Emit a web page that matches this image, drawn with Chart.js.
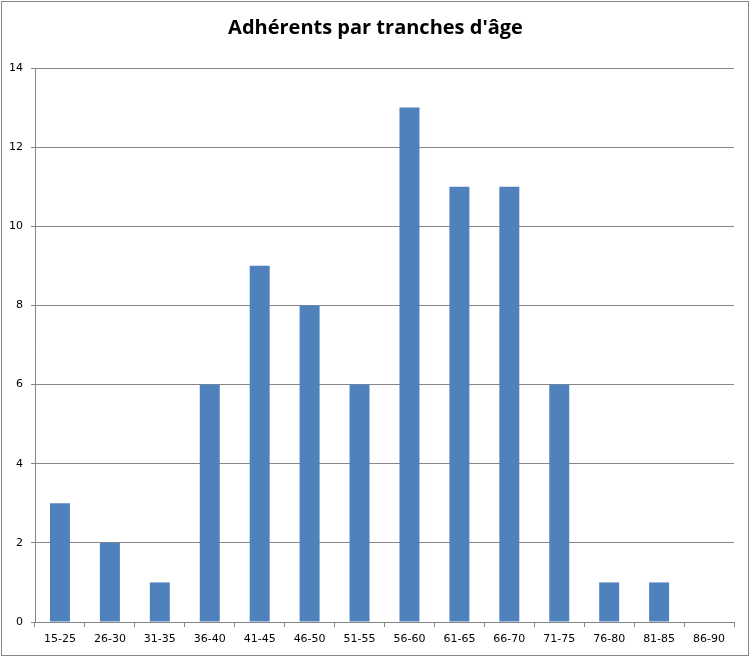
<!DOCTYPE html>
<html>
<head>
<meta charset="utf-8">
<script src="https://cdn.jsdelivr.net/npm/chart.js@4.4.1/dist/chart.umd.min.js"></script>
<style>
  body { margin: 0; background: #fff; }
  #cadre { position: absolute; left: 1px; top: 1px; width: 748px; height: 655px; box-sizing: border-box; border: 1px solid #868686; pointer-events: none; }
  #graphique { position: absolute; left: 0; top: 0; }
</style>
</head>
<body>
<canvas id="graphique" width="751" height="658"></canvas>
<div id="cadre"></div>
<script>
// Tranches d'âge et nombre d'adhérents
const tranches = ['15-25', '26-30', '31-35', '36-40', '41-45', '46-50', '51-55', '56-60', '61-65', '66-70', '71-75', '76-80', '81-85', '86-90'];
const adherents = [3, 2, 1, 6, 9, 8, 6, 13, 11, 11, 6, 1, 1, 0];
const graduations = [0, 2, 4, 6, 8, 10, 12, 14];

const ctx = document.getElementById('graphique').getContext('2d');
const graphique = new Chart(ctx, {
    type: 'bar',
    data: {
        labels: tranches,
        datasets: [{
            label: 'Adhérents',
            data: adherents,
            backgroundColor: '#4f81bd',
            borderWidth: 0,
            categoryPercentage: 0.4,
            barPercentage: 1
        }]
    },
    options: {
        responsive: false,
        animation: false,
        layout: { padding: 0 },
        plugins: {
            legend: { display: false },
            tooltip: { enabled: false },
            title: {
                display: true,
                text: "Adhérents par tranches d'âge",
                color: '#000',
                font: { family: 'Open Sans', size: 20, weight: 'bold' },
                padding: { top: 16, bottom: 28 }
            }
        },
        scales: {
            x: {
                grid: { offset: true, drawOnChartArea: false, drawTicks: true, tickLength: 5, color: '#868686' },
                border: { display: true, color: '#868686' },
                ticks: { color: '#000', font: { family: 'DejaVu Sans', size: 11 }, padding: 6, maxRotation: 0, autoSkip: false },
                afterFit: scale => { scale.height = 36; }
            },
            y: {
                min: 0,
                max: 14,
                afterBuildTicks: scale => { scale.ticks = graduations.map(v => ({ value: v })); },
                grid: { color: '#868686', tickLength: 4 },
                border: { display: true, color: '#868686' },
                ticks: { color: '#000', font: { family: 'DejaVu Sans', size: 11 }, padding: 8 },
                afterFit: scale => { scale.width = 35; }
            },
            // axe vide à droite, sert seulement de marge (le titre reste centré)
            marge: {
                type: 'linear',
                position: 'right',
                grid: { display: false },
                border: { display: false },
                ticks: { display: false },
                afterFit: scale => { scale.width = 17; }
            }
        }
    }
});
</script>
</body>
</html>
